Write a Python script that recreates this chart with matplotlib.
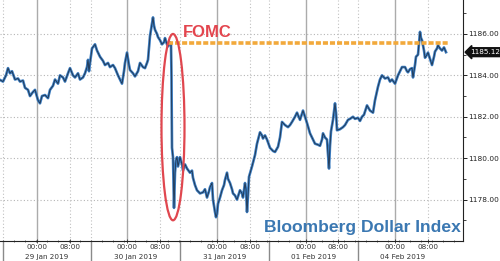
import matplotlib
matplotlib.use("Agg")
import matplotlib.pyplot as plt
from matplotlib.patches import Ellipse
from matplotlib.transforms import blended_transform_factory

# ---- data (x = session position along the time axis, v = index level) ----
trace_x = [0, 3, 6, 8, 10, 12, 15, 18, 20, 23, 25, 28, 30, 33, 35, 38, 40, 42, 45, 48,
           50, 53, 55, 58, 60, 63, 65, 68, 70, 73, 75, 78, 80, 83, 85, 87, 88, 89, 90, 92,
           95, 97, 100, 103, 105, 108, 110, 113, 115, 118, 120, 122, 124, 125, 127, 129, 130, 133, 135, 138,
           140, 143, 145, 147, 148, 150, 152, 153, 154, 155, 157, 158, 160, 162, 164, 165, 167, 168, 170, 171,
           171.5, 172, 173, 174, 175, 176, 177, 178, 180, 182, 183, 185, 187, 190, 192, 193, 195, 197, 200, 203,
           205, 207, 209, 210, 212, 213, 215, 216, 217, 218, 220, 222, 224, 225, 227, 228, 230, 232, 233, 235,
           237, 239, 240, 242, 243, 245, 246, 247, 248, 249, 252, 255, 257, 260, 262, 263, 265, 267, 270, 273,
           275, 278, 280, 282, 285, 288, 290, 292, 295, 297, 300, 303, 305, 307, 310, 313, 315, 318, 320, 322,
           323, 325, 327, 329, 330, 331, 333, 335, 336, 337, 340, 343, 345, 348, 350, 353, 355, 358, 360, 362,
           364, 367, 370, 373, 375, 378, 380, 382, 385, 388, 390, 392, 395, 398, 400, 402, 405, 407, 408, 410,
           412, 413, 415, 416, 418, 420, 421, 422, 424, 425, 427, 428, 430, 432, 434, 435, 437, 438, 440, 442,
           444, 446]
trace_v = [1183.78, 1183.7, 1184.0, 1184.35, 1184.1, 1184.2, 1183.8, 1183.85, 1183.7, 1183.75,
           1183.4, 1183.3, 1183.0, 1183.2, 1183.3, 1182.8, 1182.65, 1183.0, 1183.05, 1182.9,
           1183.3, 1183.5, 1183.8, 1183.6, 1184.0, 1183.9, 1183.7, 1184.1, 1184.35, 1184.0,
           1183.9, 1184.1, 1183.8, 1183.9, 1184.1, 1184.4, 1184.75, 1184.2, 1184.6, 1185.3,
           1185.5, 1185.2, 1184.9, 1184.7, 1184.5, 1184.6, 1184.4, 1184.5, 1184.35, 1184.0,
           1183.8, 1183.6, 1184.2, 1184.6, 1185.1, 1184.5, 1184.26, 1184.1, 1183.95, 1184.2,
           1184.6, 1184.4, 1184.35, 1184.6, 1184.75, 1185.9, 1186.5, 1186.8, 1186.4, 1186.2,
           1186.0, 1185.85, 1185.7, 1185.5, 1185.6, 1185.8, 1185.5, 1185.4, 1185.6, 1185.5,
           1183.9, 1180.5, 1180.05, 1177.6, 1179.3, 1179.9, 1180.05, 1179.6, 1180.05, 1179.7,
           1179.4, 1179.7, 1179.5, 1179.3, 1179.4, 1179.05, 1178.7, 1178.45, 1178.3, 1178.35,
           1178.5, 1178.1, 1178.4, 1178.6, 1178.8, 1178.0, 1177.4, 1177.15, 1177.3, 1177.8,
           1178.1, 1178.45, 1178.7, 1178.95, 1179.3, 1179.0, 1178.8, 1178.5, 1178.3, 1178.2,
           1178.0, 1178.3, 1178.45, 1178.3, 1178.1, 1178.8, 1178.5, 1177.4, 1178.2, 1179.1,
           1179.6, 1180.15, 1180.7, 1181.25, 1181.1, 1180.95, 1181.1, 1180.9, 1180.5, 1180.35,
           1180.3, 1180.55, 1181.0, 1181.75, 1181.6, 1181.5, 1181.6, 1181.75, 1182.0, 1182.2,
           1181.85, 1182.3, 1182.0, 1181.7, 1181.2, 1180.9, 1180.7, 1180.65, 1180.6, 1180.9,
           1181.2, 1181.0, 1180.9, 1179.5, 1180.6, 1181.3, 1181.85, 1182.65, 1182.2, 1181.35,
           1181.4, 1181.5, 1181.6, 1181.85, 1181.9, 1182.0, 1181.9, 1181.95, 1181.8, 1182.0,
           1182.1, 1182.55, 1182.3, 1182.2, 1182.8, 1183.45, 1183.8, 1184.0, 1183.85, 1183.9,
           1183.7, 1183.8, 1183.6, 1184.0, 1184.2, 1184.4, 1184.4, 1184.2, 1184.15, 1184.3,
           1184.35, 1183.9, 1184.5, 1184.9, 1185.0, 1186.1, 1185.8, 1185.7, 1185.2, 1184.85,
           1185.0, 1185.1, 1184.8, 1184.5, 1184.9, 1185.15, 1185.3, 1185.45, 1185.3, 1185.2,
           1185.35, 1185.12]

last_price = 1185.12
fomc_level = 1185.55
fomc_x_range = [168, 448]

day_starts = [3, 91, 180, 269, 358]           # session boundaries
midnight_x = [37, 127, 217, 306, 395]          # 00:00 positions
eight_x = [70, 160, 250, 338, 428]             # 08:00 positions
date_labels = ["29 Jan 2019", "30 Jan 2019", "31 Jan 2019", "01 Feb 2019", "04 Feb 2019"]
y_major = [1178, 1180, 1182, 1184, 1186]
y_minor = [1177, 1179, 1181, 1183, 1185, 1187]

# ---- figure ----
W, H = 500, 261
fig = plt.figure(figsize=(W / 100, H / 100), dpi=100)
ax = fig.add_axes([0, 20 / H, 463 / W, 241 / H])
ax.set_xlim(0, 463)
ax.set_ylim(1176.0, 1187.64)

for s in ["top", "left"]:
    ax.spines[s].set_visible(False)
for s in ["right", "bottom"]:
    ax.spines[s].set_linewidth(0.8)
    ax.spines[s].set_color("#222222")

# grid
for v in y_major:
    ax.axhline(v, color="#b5b5b5", lw=0.8, ls=(0, (1, 2)), zorder=0)
for x in midnight_x:
    ax.axvline(x, color="#ababab", lw=1.0, zorder=0)
for x in eight_x + day_starts:
    ax.axvline(x, color="#c0c0c0", lw=0.8, ls=(0, (1, 2)), zorder=0)

# price trace
ax.plot(trace_x, trace_v, color="#3b7cc0", lw=1.9, zorder=3)
ax.plot(trace_x, trace_v, color="#1c2a3c", lw=0.5, zorder=4)

# FOMC level line
ax.plot(fomc_x_range, [fomc_level, fomc_level], color="#f2a93b", lw=2.6,
        ls=(0, (1.4, 0.55)), zorder=5, solid_capstyle="butt")

# FOMC ellipse
ax.add_patch(Ellipse((173, 1181.5), width=23, height=9.0, fill=False,
                     ec="#e0474f", lw=1.6, zorder=6))

# y axis on right
ax.yaxis.tick_right()
ax.set_yticks(y_major)
ax.set_yticklabels([f"{v:.2f}" for v in y_major])
ax.set_yticks(y_minor, minor=True)
ax.tick_params(axis="y", which="major", length=3, width=0.7, labelsize=5.3, pad=1.0,
               colors="#222222")
ax.tick_params(axis="y", which="minor", length=2, width=0.6, colors="#222222")

# x axis
ax.set_xticks(sorted(midnight_x + eight_x))
ax.set_xticklabels(["00:00" if x in midnight_x else "08:00" for x in sorted(midnight_x + eight_x)])
ax.set_xticks([x for x in range(3, 463, 11)], minor=True)
ax.tick_params(axis="x", which="major", length=2.5, width=0.6, labelsize=5.2, pad=1.0,
               colors="#333333", direction="inout")
ax.tick_params(axis="x", which="minor", length=2, width=0.5, colors="#333333", direction="inout")

bt = blended_transform_factory(ax.transData, ax.transAxes)
for i, x in enumerate(day_starts):
    ax.plot([x, x], [0, -0.085], transform=bt, color="#8a8a8a", lw=1.0, clip_on=False)
    nxt = day_starts[i + 1] if i + 1 < len(day_starts) else x + 89
    ax.text((x + nxt) / 2, -0.056, date_labels[i], transform=bt, ha="center", va="top",
            fontsize=5.2, color="#333333")

# last price box
ax.annotate(f"{last_price:.2f}", xy=(1.0, last_price),
            xycoords=blended_transform_factory(ax.transAxes, ax.transData),
            xytext=(5, 0), textcoords="offset points", ha="left", va="center",
            fontsize=5.2, color="white",
            bbox=dict(boxstyle="larrow,pad=0.2", fc="#111111", ec="#111111"))

# annotations
fig.text(183 / W, 1 - 37 / H, "FOMC", fontsize=12, fontweight="bold",
         family="Liberation Sans", color="#e3454e", ha="left", va="baseline")
fig.text(461 / W, 1 - 232 / H, "Bloomberg Dollar Index", fontsize=12.6, fontweight="bold",
         family="Liberation Sans", color="#3b78b2", ha="right", va="baseline")

fig.savefig("out.png", dpi=100)
